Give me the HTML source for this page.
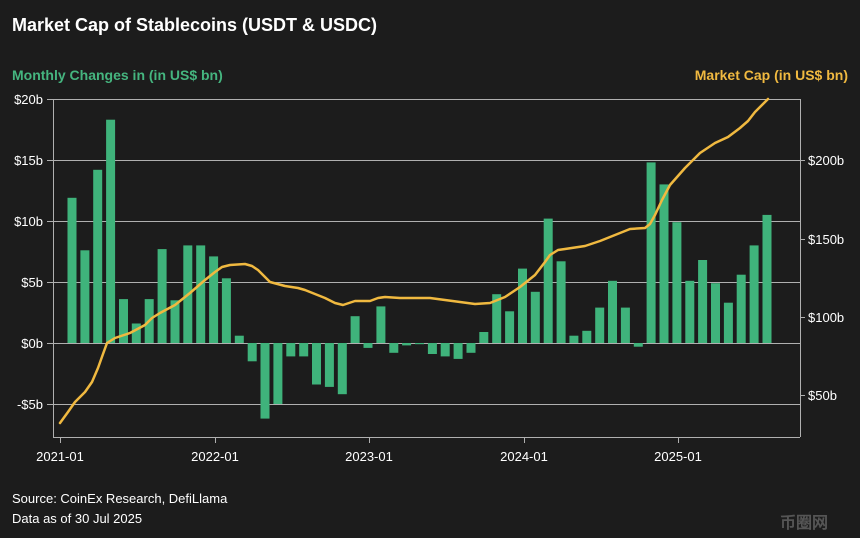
<!DOCTYPE html>
<html><head><meta charset="utf-8"><style>
html,body{margin:0;padding:0;background:#1c1c1c;}
svg{display:block;font-family:"Liberation Sans",sans-serif;}
</style></head><body>
<svg id="c" width="860" height="538" viewBox="0 0 860 538" xmlns="http://www.w3.org/2000/svg">
<rect width="860" height="538" fill="#1c1c1c"/>
<text x="12" y="31" fill="#ffffff" font-size="18" font-weight="bold">Market Cap of Stablecoins (USDT &amp; USDC)</text>
<text x="12" y="80" fill="#45b57f" font-size="14" font-weight="bold">Monthly Changes in (in US$ bn)</text>
<text x="848" y="80" fill="#f0b940" font-size="14" font-weight="bold" text-anchor="end">Market Cap (in US$ bn)</text>
<g id="grid" stroke="#b0b0b0" stroke-width="1"></g>
<g id="bars" fill="#3fb37b"></g>
<polyline id="ln" fill="none" stroke="#f0b940" stroke-width="2.5" stroke-linejoin="round" stroke-linecap="round"/>
<g id="lab" fill="#ffffff" font-size="13"></g>
<text x="12" y="503" fill="#ffffff" font-size="13">Source: CoinEx Research, DefiLlama</text>
<text x="12" y="523" fill="#ffffff" font-size="13">Data as of 30 Jul 2025</text>
<text x="780" y="528" fill="#555" font-size="16" font-weight="bold">币圈网</text>
</svg>
<script>
var NS="http://www.w3.org/2000/svg";
function el(p,t,a,txt){var e=document.createElementNS(NS,t);for(var k in a)e.setAttribute(k,a[k]);if(txt)e.textContent=txt;document.getElementById(p).appendChild(e);}
var L=53,R=800;
var gy=[[99,"$20b"],[160,"$15b"],[221,"$10b"],[282,"$5b"],[343,"$0b"],[404,"-$5b"]];
gy.forEach(function(g){el("grid","line",{x1:47,x2:R,y1:g[0]+.5,y2:g[0]+.5});el("lab","text",{x:43,y:g[0]+5,"text-anchor":"end"},g[1]);});
el("grid","line",{x1:L+.5,x2:L+.5,y1:99,y2:437});
el("grid","line",{x1:R+.5,x2:R+.5,y1:99,y2:437});
el("grid","line",{x1:L,x2:R,y1:437.5,y2:437.5});
[[160,"$200b"],[239,"$150b"],[317,"$100b"],[395,"$50b"]].forEach(function(g){el("grid","line",{x1:R,x2:R+5,y1:g[0]+.5,y2:g[0]+.5});el("lab","text",{x:808,y:g[0]+5},g[1]);});
[[60,"2021-01"],[215,"2022-01"],[369,"2023-01"],[524,"2024-01"],[678,"2025-01"]].forEach(function(g){el("grid","line",{x1:g[0]+.5,x2:g[0]+.5,y1:437,y2:443});el("lab","text",{x:g[0],y:461,"text-anchor":"middle"},g[1]);});
var v=[11.9,7.6,14.2,18.3,3.6,1.6,3.6,7.7,3.5,8,8,7.1,5.3,0.6,-1.5,-6.2,-5,-1.1,-1.1,-3.4,-3.6,-4.2,2.2,-0.4,3,-0.8,-0.2,-0.1,-0.9,-1.1,-1.3,-0.8,0.9,4,2.6,6.1,4.2,10.2,6.7,0.6,1,2.9,5.1,2.9,-0.3,14.8,13,9.9,5.1,6.8,4.9,3.3,5.6,8,10.5];
v.forEach(function(d,i){var cx=60+12.87*i+12;var h=Math.abs(d)*12.2;var y=d>=0?343-h:343;el("bars","rect",{x:(cx-4.5).toFixed(1),y:y.toFixed(1),width:9,height:Math.max(h,1).toFixed(1)});});
document.getElementById("ln").setAttribute("points","60,423 68,412 75,402 85,392 92,382 98,368 103,354 107,343 115,338 130,333 145,325 152,318 160,313 175,305 190,293 205,280 215,272 222,267 230,265 245,264 252,266 258,270 264,276 270,282 285,286 298,288 305,290 315,294 325,298 335,303 343,305 355,301 370,301 378,298 385,297 400,298 430,298 445,300 460,302 475,304 490,303 505,297 520,287 530,279 535,275 545,262 550,255 558,250 565,249 585,246 600,241 615,235 630,229 645,228 650,224 655,215 662,200 670,185 685,168 693,160 700,153 715,143 728,137 740,128 748,121 755,112 762,105 768,99");
</script>
</body></html>
